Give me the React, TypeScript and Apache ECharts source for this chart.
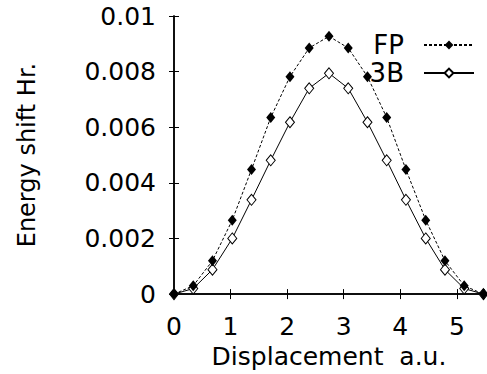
import React, { useEffect, useRef } from "react";
import * as echarts from "echarts";

const xValues = [0, 0.34, 0.68, 1.03, 1.37, 1.71, 2.05, 2.39, 2.74, 3.08, 3.42, 3.76, 4.1, 4.45, 4.79, 5.13, 5.47];
const fpValues = [0, 0.0003, 0.0012, 0.00266, 0.00448, 0.00635, 0.00782, 0.00885, 0.00927, 0.00885, 0.00782, 0.00635, 0.00448, 0.00266, 0.0012, 0.0003, 0];
const b3Values = [0, 0.0002, 0.00088, 0.002, 0.00339, 0.00481, 0.00618, 0.0074, 0.00794, 0.0074, 0.00618, 0.00481, 0.00339, 0.002, 0.00088, 0.0002, 0];
const xTickLabels = ["0", "1", "2", "3", "4", "5"];
const yTickLabels = ["0", "0.002", "0.004", "0.006", "0.008", "0.01"];

const FONT = "DejaVu Sans";

export default function App() {
  const ref = useRef<HTMLDivElement>(null);
  useEffect(() => {
    const chart = echarts.init(ref.current!, null, { renderer: "svg" });
    const axisLineStyle = { color: "#000", width: 1.5 };
    chart.setOption({
      animation: false,
      backgroundColor: "#fff",
      grid: { left: 174, right: 0, top: 16, bottom: 76.5, containLabel: false },
      legend: {
        orient: "vertical",
        right: 7,
        top: 27,
        align: "right",
        itemWidth: 50,
        itemHeight: 11,
        itemGap: 2,
        data: ["FP", "3B"],
        textStyle: { fontFamily: FONT, fontSize: 26, color: "#000", padding: [0, 15, 0, 0] },
      },
      xAxis: [
        {
          type: "value",
          min: 0,
          max: 5.48,
          interval: 1,
          position: "bottom",
          name: "Displacement  a.u.",
          nameLocation: "middle",
          nameGap: 47,
          nameTextStyle: { fontFamily: FONT, fontSize: 25, color: "#000" },
          axisLine: { show: true, lineStyle: axisLineStyle },
          axisTick: { show: true, inside: true, length: 5, lineStyle: { color: "#000" } },
          axisLabel: {
            fontFamily: FONT,
            fontSize: 25,
            color: "#000",
            margin: 20,
            formatter: (v: number) => {
              const s = String(Math.round(v));
              return Math.abs(v - Math.round(v)) < 1e-6 && xTickLabels.includes(s) ? s : "";
            },
          },
          splitLine: { show: false },
        },
        {
          type: "value",
          min: 0,
          max: 5.48,
          interval: 1,
          position: "top",
          axisLine: { show: true, lineStyle: axisLineStyle },
          axisTick: { show: true, inside: true, length: 5, lineStyle: { color: "#000" } },
          axisLabel: { show: false },
          splitLine: { show: false },
        },
      ],
      yAxis: [
        {
          type: "value",
          min: 0,
          max: 0.01,
          interval: 0.002,
          position: "left",
          name: "Energy shift Hr.",
          nameLocation: "middle",
          nameGap: 135,
          nameTextStyle: { fontFamily: FONT, fontSize: 24, color: "#000" },
          axisLine: { show: true, lineStyle: axisLineStyle },
          axisTick: { show: true, inside: true, length: 5, lineStyle: { color: "#000" } },
          axisLabel: {
            fontFamily: FONT,
            fontSize: 25,
            color: "#000",
            margin: 18,
            formatter: (v: number) => yTickLabels[Math.round(v / 0.002)] ?? "",
          },
          splitLine: { show: false },
        },
        {
          type: "value",
          min: 0,
          max: 0.01,
          interval: 0.002,
          position: "right",
          axisLine: { show: true, lineStyle: axisLineStyle },
          axisTick: { show: true, inside: true, length: 5, lineStyle: { color: "#000" } },
          axisLabel: { show: false },
          splitLine: { show: false },
        },
      ],
      series: [
        {
          name: "3B",
          type: "line",
          data: xValues.map((x, i) => [x, b3Values[i]]),
          symbol: "diamond",
          symbolSize: [9, 11],
          showAllSymbol: true,
          clip: false,
          z: 2,
          lineStyle: { color: "#000", width: 1, type: "solid" },
          itemStyle: { color: "#fff", borderColor: "#000", borderWidth: 1 },
        },
        {
          name: "FP",
          type: "line",
          data: xValues.map((x, i) => [x, fpValues[i]]),
          symbol: "diamond",
          symbolSize: [9, 11],
          showAllSymbol: true,
          clip: false,
          z: 3,
          lineStyle: { color: "#000", width: 1, type: [3, 2] },
          itemStyle: { color: "#000", borderColor: "#000", borderWidth: 0 },
        },
      ],
    });
    return () => chart.dispose();
  }, []);
  return <div ref={ref} style={{ width: 487, height: 374, position: "absolute", left: 0, top: 0 }} />;
}
